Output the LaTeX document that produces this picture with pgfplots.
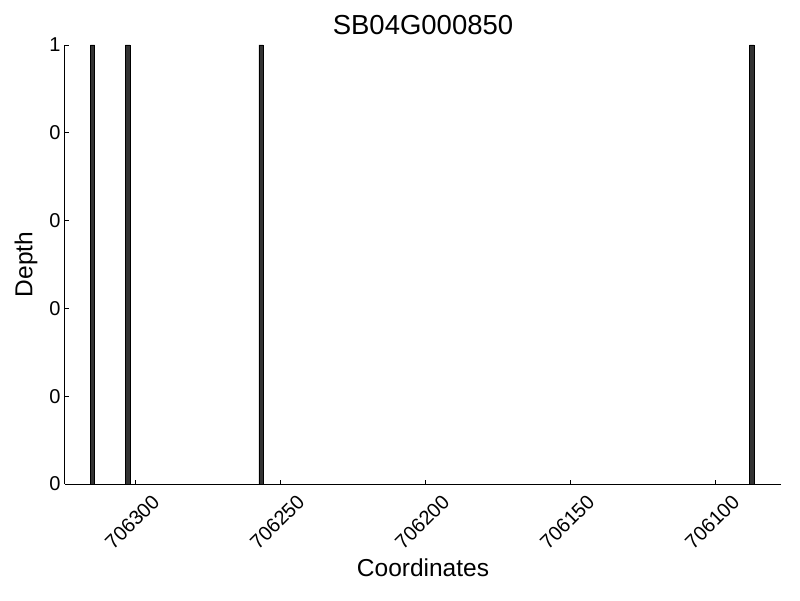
\documentclass[border=0pt]{standalone}
\usepackage{pgfplots}
\pgfplotsset{compat=1.18}
\usepackage{fontspec}
\setmainfont{Liberation Sans}
\begin{document}
\begin{tikzpicture}[x=1pt,y=1pt]
\useasboundingbox (0,0) rectangle (800,600);
\begin{axis}[
  at={(65pt,116pt)}, anchor=south west,
  scale only axis, width=716pt, height=439pt,
  x dir=reverse,
  xmin=706077.3, xmax=706324.2,
  ymin=0, ymax=1,
  axis x line*=bottom, axis y line*=left,
  axis line style={line width=1pt},
  tick align=inside,
  major tick length=4pt,
  tick style={black, line width=0.6pt},
  xtick={706100,706150,706200,706250,706300},
  xticklabels={706100,706150,706200,706250,706300},
  ytick={0,0.2,0.4,0.6,0.8,1},
  yticklabels={0,0,0,0,0,1},
  scaled x ticks=false,
  tick label style={font=\fontsize{20}{22}\selectfont},
  x tick label style={yshift=-38pt, xshift=-3pt, rotate=45, anchor=center},
  y tick label style={xshift=-1pt},
  xlabel={Coordinates}, ylabel={Depth},
  label style={font=\fontsize{24.5}{27}\selectfont},
  xlabel style={at={(axis description cs:0.5,0)}, anchor=center, yshift=-84pt},
  ylabel style={at={(axis description cs:0,0.5)}, anchor=center, yshift=39pt},
  title={SB04G000850},
  title style={font=\fontsize{27.5}{30}\selectfont, at={(axis description cs:0.5,1)}, anchor=center, yshift=14pt},
  clip=false,
]
\addplot[ybar, bar width=1.5, fill=black!80, draw=black, line width=0.6pt] coordinates {
  (706314.7,1) (706302.6,1) (706256.6,1) (706087.4,1)
};
\end{axis}
\end{tikzpicture}
\end{document}
